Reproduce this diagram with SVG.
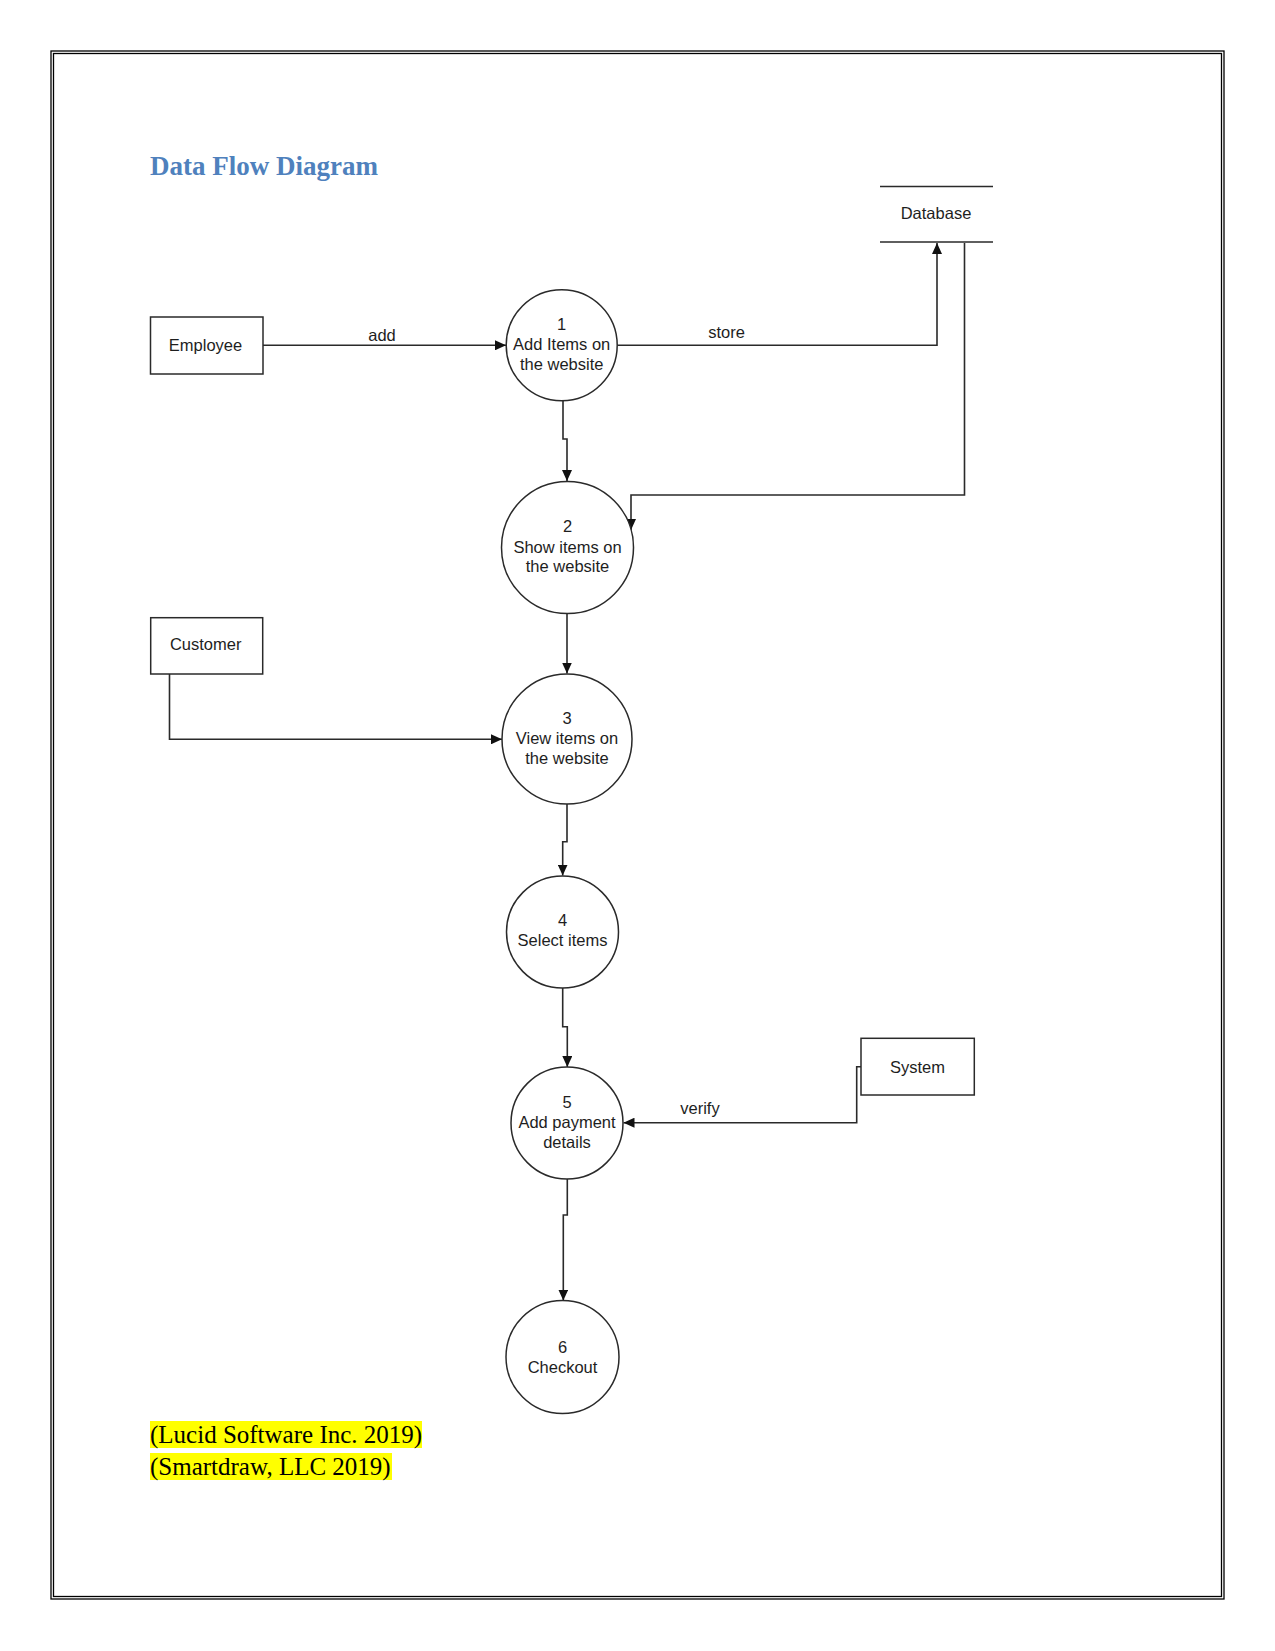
<svg xmlns="http://www.w3.org/2000/svg" width="1275" height="1651" viewBox="0 0 1275 1651">
<style>
.lbl{font-family:"Liberation Sans",Arial,sans-serif;font-size:16.5px;fill:#1e1e1e;text-anchor:middle}
.shape{fill:#fff;stroke:#2a2a2a;stroke-width:1.5}
.conn{fill:none;stroke:#2a2a2a;stroke-width:1.6}
.cite{font-family:"Liberation Serif","Times New Roman",serif;font-size:25px;fill:#000}
</style>
<defs>
<marker id="arr" viewBox="0 0 11 10" refX="11" refY="5" markerWidth="11" markerHeight="10" markerUnits="userSpaceOnUse" orient="auto">
<path d="M0,0 L11,5 L0,10 z" fill="#111"/>
</marker>
</defs>
<rect width="1275" height="1651" fill="#fff"/>
<g id="page-border" fill="none" stroke="#000" stroke-width="1.3">
<rect x="51" y="51" width="1173" height="1548"/>
<rect x="53.5" y="53.5" width="1168" height="1543"/>
</g>
<text id="title" x="150" y="175" font-family="'Liberation Serif','Times New Roman',serif" font-size="27" font-weight="bold" fill="#4F81BD">Data Flow Diagram</text>

<g id="connectors" class="conn" marker-end="url(#arr)">
<path d="M263,345.3 H506"/>
<path d="M617,345.3 H937 V243"/>
<path d="M563,401 V439 H567 V481"/>
<path d="M964.5,243 V495 H631 V530"/>
<path d="M567,613.5 V673.5"/>
<path d="M169.5,674 V739.3 H502"/>
<path d="M567,804 V841.7 H562.7 V875.5"/>
<path d="M562.7,988 V1026.7 H567.3 V1067"/>
<path d="M861,1066.7 H856.7 V1122.7 H623.5"/>
<path d="M567.3,1179 V1215 H563.3 V1300.5"/>
</g>
<g id="connector-labels">
<text class="lbl" x="382" y="340.5">add</text>
<text class="lbl" x="726.5" y="337.5">store</text>
<text class="lbl" x="700" y="1114">verify</text>
</g>

<g id="employee">
<rect class="shape" x="150.5" y="317" width="112.5" height="57"/>
<text class="lbl" x="205.5" y="351">Employee</text>
</g>
<g id="customer">
<rect class="shape" x="150.7" y="617.7" width="112" height="56.3"/>
<text class="lbl" x="205.7" y="650">Customer</text>
</g>
<g id="system">
<rect class="shape" x="861" y="1038.3" width="113.3" height="56.7"/>
<text class="lbl" x="917.5" y="1072.5">System</text>
</g>
<g id="database">
<line x1="880" y1="186.5" x2="993" y2="186.5" stroke="#2a2a2a" stroke-width="1.5"/>
<line x1="880" y1="242" x2="993" y2="242" stroke="#2a2a2a" stroke-width="1.5"/>
<text class="lbl" x="936" y="218.5">Database</text>
</g>

<g id="process-1">
<circle class="shape" cx="561.7" cy="345.3" r="55.5"/>
<text class="lbl" x="561.7" y="330">1</text>
<text class="lbl" x="561.7" y="350">Add Items on</text>
<text class="lbl" x="561.7" y="370">the website</text>
</g>
<g id="process-2">
<circle class="shape" cx="567.5" cy="547.5" r="66"/>
<text class="lbl" x="567.5" y="532">2</text>
<text class="lbl" x="567.5" y="552.5">Show items on</text>
<text class="lbl" x="567.5" y="572">the website</text>
</g>
<g id="process-3">
<circle class="shape" cx="567" cy="739" r="65"/>
<text class="lbl" x="567" y="724">3</text>
<text class="lbl" x="567" y="744">View items on</text>
<text class="lbl" x="567" y="764">the website</text>
</g>
<g id="process-4">
<circle class="shape" cx="562.5" cy="932" r="56"/>
<text class="lbl" x="562.5" y="926">4</text>
<text class="lbl" x="562.5" y="946">Select items</text>
</g>
<g id="process-5">
<circle class="shape" cx="567" cy="1123" r="56"/>
<text class="lbl" x="567" y="1107.5">5</text>
<text class="lbl" x="567" y="1128">Add payment</text>
<text class="lbl" x="567" y="1147.5">details</text>
</g>
<g id="process-6">
<circle class="shape" cx="562.5" cy="1357" r="56.5"/>
<text class="lbl" x="562.5" y="1352.5">6</text>
<text class="lbl" x="562.5" y="1372.5">Checkout</text>
</g>

<g id="citations">
<rect x="150" y="1421" width="272" height="27" fill="#FFFF00"/>
<rect x="150" y="1453" width="242" height="27" fill="#FFFF00"/>
<text class="cite" x="150" y="1442.5">(Lucid Software Inc. 2019)</text>
<text class="cite" x="150" y="1475">(Smartdraw, LLC 2019)</text>
</g>
</svg>
